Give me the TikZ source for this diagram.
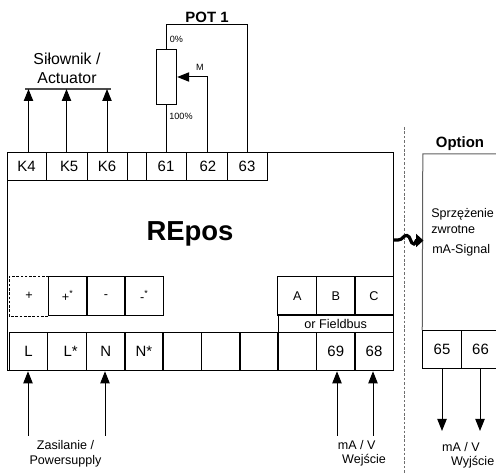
\documentclass[tikz,border=0pt]{standalone}
\usepackage{fontspec}
\setmainfont{Liberation Sans}
\usepackage{tikz}
\usetikzlibrary{arrows.meta,positioning,calc}
\definecolor{optgray}{RGB}{95,95,95}
\definecolor{sepgray}{RGB}{110,110,110}
\tikzstyle{arrow} = [line width=0.75pt,-{Triangle[length=9pt,width=7pt]}]
\tikzstyle{wire} = [line width=0.75pt]
\tikzstyle{terminal} = [rectangle, draw, line width=0.75pt, inner sep=0pt, minimum height=21pt, font=\fontsize{11.2}{13}\selectfont]
\tikzstyle{lowterminal} = [terminal, minimum width=28.9pt, minimum height=29pt]
\tikzstyle{smallcell} = [terminal, minimum width=28.9pt, minimum height=29pt, font=\fontsize{9.5}{11}\selectfont]
\tikzstyle{label} = [inner sep=0pt, font=\fontsize{9.4}{11}\selectfont]
\tikzstyle{tinylabel} = [inner sep=0pt, font=\fontsize{6.8}{8}\selectfont]
\begin{document}
\begin{tikzpicture}[x=0.75pt, y=-0.75pt]
    \useasboundingbox (0,0) rectangle (496,473);

    % Main housing
    \node[rectangle, draw, line width=0.75pt, minimum width=289.5pt, minimum height=163.3pt, inner sep=0pt] (main) at (200.5,261.85) {};
    \node[inner sep=0pt, font=\fontsize{20.6}{24}\bfseries\selectfont] (title) at (190,234) {REpos};

    % Top terminals
    \node[terminal, minimum width=29.25pt] (k4) at (26.5,166.75) {K4};
    \node[terminal, minimum width=30.75pt] (k5) at (66.5,166.75) {\hspace{4pt}K5};
    \node[terminal, minimum width=30pt] (k6) at (107,166.75) {K6};
    \node[terminal, minimum width=14.25pt] (gap) at (136.5,166.75) {};
    \node[terminal, minimum width=30pt] (t61) at (166,166.75) {61};
    \node[terminal, minimum width=30.75pt] (t62) at (206.5,166.75) {\hspace{2pt}62};
    \node[terminal, minimum width=30pt] (t63) at (247,166.75) {63};

    % Actuator
    \node[inner sep=0pt, align=center, font=\fontsize{11.9}{14.2}\selectfont] (act) at (67,68.5) {Siłownik /\\Actuator};
    \coordinate (barL) at (25,89);
    \coordinate (barR) at (111,89);
    \draw[line width=1pt, black!70] (barL) -- (barR);
    \draw[arrow] (k4.north -| 28.5,0) -- (28.5,89);
    \draw[arrow] (k5.north) -- (k5.north |- barL);
    \draw[arrow] (k6.north) -- (k6.north |- barL);

    % Potentiometer
    \node[rectangle, draw, line width=0.75pt, minimum width=15pt, minimum height=41.5pt, inner sep=0pt] (pot) at (166.7,77) {};
    \node[inner sep=0pt, font=\fontsize{11.2}{13}\bfseries\selectfont] (pottitle) at (207,17) {POT 1};
    \node[tinylabel] (zero) at (176.5,39) {0\%};
    \node[tinylabel] (hundred) at (181,116) {100\%};
    \node[tinylabel] (wiper) at (200,67) {M};
    \draw[wire] (pot.south) -- (pot.south |- t61.north);
    \draw[wire] (pot.north) -- ++(0,-24.3) -| (t63.north);
    \draw[arrow] (t62.north) ++(1,0) |- (pot.east);

    % Bridge cells
    \node[smallcell, draw=none] (plus) at (29,296.2) {+};
    \draw[line width=0.75pt, dashed, dash pattern=on 2pt off 1.2pt] (plus.north east) -- (plus.north west) -- (plus.south west) -- (plus.south east);
    \node[smallcell] (plusb) at (67.75,296.2) {+\textsuperscript{*}};
    \node[smallcell] (minus) at (106,296.2) {-};
    \node[smallcell] (minusb) at (144.25,296.2) {-\textsuperscript{*}};

    % Bottom terminals
    \node[lowterminal] (tl) at (28.5,351.5) {L};
    \node[lowterminal] (tlb) at (67.25,351.5) {\hspace{5pt}L*};
    \node[lowterminal] (tn) at (105.75,351.5) {N};
    \node[lowterminal] (tnb) at (144,351.5) {N*};
    \node[lowterminal] (e1) at (182.25,351.5) {};
    \node[lowterminal] (e2) at (220.75,351.5) {};
    \node[lowterminal] (e3) at (259,351.5) {};
    \node[lowterminal] (e4) at (297.25,351.5) {};
    \node[lowterminal] (t69) at (335.75,351.5) {69};
    \node[lowterminal] (t68) at (374,351.5) {68};

    % Fieldbus block
    \node[smallcell] (ca) at (297.25,296) {A};
    \node[smallcell] (cb) at (335.75,296) {B};
    \node[smallcell] (cc) at (374,296) {C};
    \node[rectangle, draw, line width=0.75pt, minimum width=86.5pt, minimum height=13pt, inner sep=0pt, font=\fontsize{9.5}{11}\selectfont] (field) at (335.75,323.6) {or Fieldbus};

    % Supply and input
    \node[label, align=center] (supply) at (65.5,453.5) {Zasilanie /\\Powersupply};
    \coordinate (supL) at (28,436);
    \coordinate (supN) at (105,436);
    \draw[arrow] (supL) -- (supL |- tl.south);
    \draw[arrow] (supN) -- (supN |- tn.south);
    \node[label] (inma) at (356.7,445) {mA / V};
    \node[label] (inwe) at (364,460) {Wejście};
    \coordinate (in69) at (337,435.7);
    \coordinate (in68) at (373,435.7);
    \draw[arrow] (in69) -- (in69 |- t69.south);
    \draw[arrow] (in68) -- (in68 |- t68.south);

    % Separator
    \coordinate (sepT) at (404.7,127);
    \coordinate (sepB) at (404.7,473);
    \draw[line width=0.8pt, sepgray, dash pattern=on 2pt off 1.3pt] (sepT) -- (sepB);

    % Option board
    \node[inner sep=0pt, font=\fontsize{11.2}{13}\bfseries\selectfont] (option) at (460,144) {Option};
    \node[lowterminal, minimum height=28.5pt] (t65) at (442,349.7) {65};
    \node[lowterminal, minimum height=28.5pt] (t66) at (480.5,349.7) {66};
    \coordinate (optR) at (497,154);
    \draw[wire, optgray] (optR) -- (422.8,154) -- (t65.north west);
    \node[label, anchor=west] (fb1) at (431,214.7) {Sprzężenie};
    \node[label, anchor=west] (fb2) at (431,230) {zwrotne};
    \node[label, anchor=west] (fb3) at (432,250) {mA-Signal};
    \node[label] (outma) at (461,446.7) {mA / V};
    \node[label] (outwy) at (472.7,461.7) {Wyjście};
    \coordinate (out65) at (442,431);
    \coordinate (out66) at (480,431);
    \draw[arrow] (out65 |- t65.south) -- (out65);
    \draw[arrow] (out66 |- t66.south) -- (out66);

    % Signal link
    \coordinate (sigout) at (393.5,240);
    \coordinate (sigin) at (423.5,240.5);
    \draw[line width=2.4pt] (sigout) -- (398,240) .. controls (403,240) and (403,235) .. (407,235.5) .. controls (411,236) and (410,244) .. (414,244) .. controls (415.5,244) and (416,242) .. (416,240.5);
    \draw[line width=2.4pt, -{Triangle[length=5.5pt,width=9.5pt]}] (414.5,240.5) -- (sigin);
\end{tikzpicture}
\end{document}
